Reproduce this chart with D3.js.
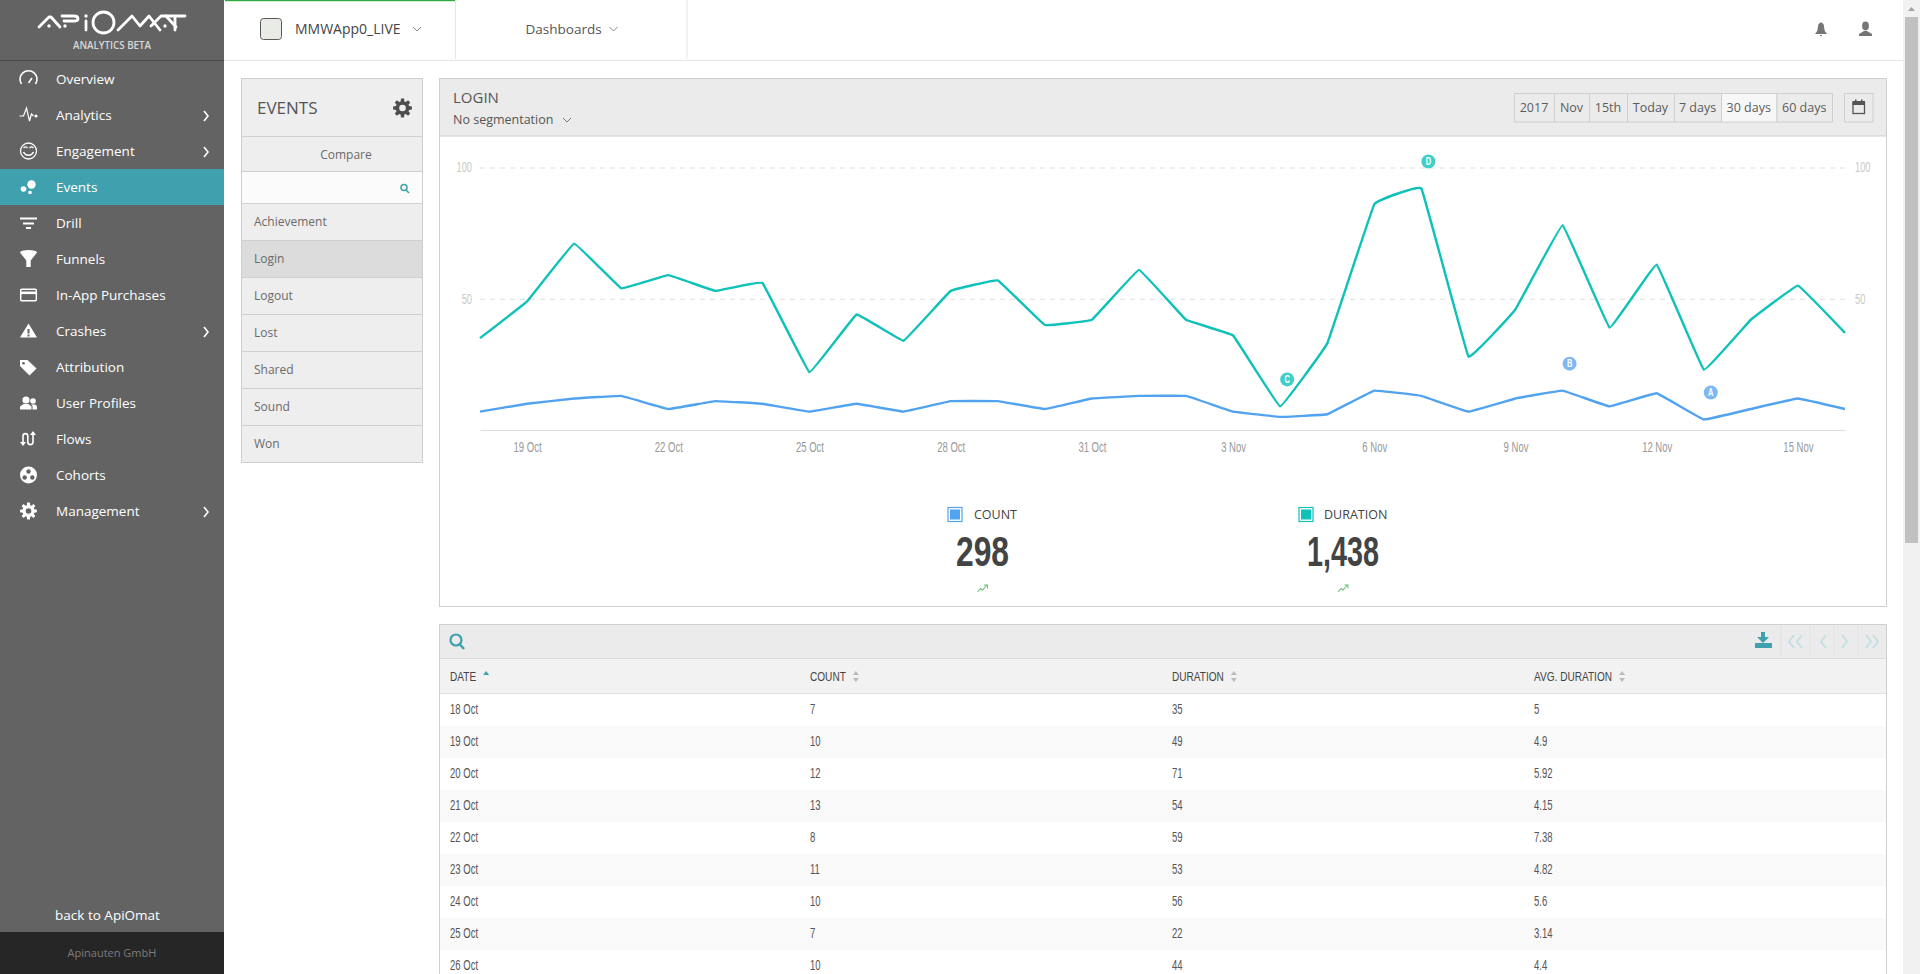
<!DOCTYPE html>
<html>
<head>
<meta charset="utf-8">
<title>Events - Login</title>
<script src="https://cdn.jsdelivr.net/npm/d3@7"></script>
<style>
  html, body { margin: 0; padding: 0; background: #fff; overflow: hidden; }
  text { font-family: "Open Sans", "Noto Sans", sans-serif; }
  text.narrow, .narrow text { font-family: "Liberation Sans", sans-serif; }
</style>
</head>
<body>
<svg id="page" width="1920" height="974"></svg>
<script>
// chart values
const days = ['18 Oct', '19 Oct', '20 Oct', '21 Oct', '22 Oct', '23 Oct', '24 Oct', '25 Oct', '26 Oct', '27 Oct',
  '28 Oct', '29 Oct', '30 Oct', '31 Oct', '1 Nov', '2 Nov', '3 Nov', '4 Nov', '5 Nov', '6 Nov',
  '7 Nov', '8 Nov', '9 Nov', '10 Nov', '11 Nov', '12 Nov', '13 Nov', '14 Nov', '15 Nov', '16 Nov'];
const countValues = [7, 10, 12, 13, 8, 11, 10, 7, 10, 7, 11, 11, 8, 12, 13, 13, 7, 5, 6, 15, 13, 7, 12, 15, 9, 14, 4, 8, 12, 8];
const durationValues = [35, 49, 71, 54, 59, 53, 56, 22, 44, 34, 53, 57, 40, 42, 61, 42, 36, 9, 33, 86, 92, 28, 46, 78, 39, 63, 23, 42, 55, 37];
const yTicks = [50, 100];
const xTicks = ['19 Oct', '22 Oct', '25 Oct', '28 Oct', '31 Oct', '3 Nov', '6 Nov', '9 Nov', '12 Nov', '15 Nov'];
const totals = ['298', '1,438'];

// letters over the highest and lowest day of each series
const noteLetters = ['A', 'B', 'C', 'D'];
const noteDays = ['13 Nov', '10 Nov', '4 Nov', '7 Nov'];
const noteValues = [4, 15, 9, 92];

// table, only the rows that fit the window
const tableDays = days.slice(0, 9);
const tableCounts = countValues.slice(0, 9);
const tableDurations = durationValues.slice(0, 9);
const tableAverages = ['5', '4.9', '5.92', '4.15', '7.38', '4.82', '5.6', '3.14', '4.4'];
const tableColumns = ['DATE', 'COUNT', 'DURATION', 'AVG. DURATION'];

const menuItems = ['Overview', 'Analytics', 'Engagement', 'Events', 'Drill', 'Funnels', 'In-App Purchases',
  'Crashes', 'Attribution', 'User Profiles', 'Flows', 'Cohorts', 'Management'];
const menuWithArrow = ['Analytics', 'Engagement', 'Crashes', 'Management'];
const eventNames = ['Achievement', 'Login', 'Logout', 'Lost', 'Shared', 'Sound', 'Won'];
const rangeButtons = ['2017', 'Nov', '15th', 'Today', '7 days', '30 days', '60 days'];
const rangeEdges = [1514, 1554, 1589, 1627, 1674, 1721, 1776.5, 1832];

const blue = '#52a3ef';
const teal = '#0ec1b9';
const accent = '#3fa1ae';

const svg = d3.select('#page');

function box(parent, x, y, w, h, fill, stroke) {
  return parent.append('rect')
    .attr('x', x).attr('y', y).attr('width', w).attr('height', h)
    .attr('fill', fill)
    .attr('stroke', stroke || 'none');
}

function label(parent, x, y, str, size, color, anchor) {
  return parent.append('text')
    .attr('x', x).attr('y', y)
    .attr('dy', '0.35em')
    .attr('font-size', size)
    .attr('fill', color)
    .attr('text-anchor', anchor || 'start')
    .text(str);
}

// no condensed font here, so narrow the glyphs by hand
function squeeze(sel, k) {
  sel.each(function () {
    let t = d3.select(this);
    let x = +t.attr('x') || 0;
    t.attr('x', 0).attr('transform', `translate(${x},0) scale(${k},1)`);
  });
  return sel;
}

function chevron(parent, x, y, color) {
  parent.append('path')
    .attr('d', `M${x - 4},${y - 2}L${x},${y + 2}L${x + 4},${y - 2}`)
    .attr('fill', 'none').attr('stroke', color).attr('stroke-width', 1);
}

function gearPath(cx, cy, outer, inner, hole) {
  let d = '';
  for (let i = 0; i < 8; i++) {
    let a = i * Math.PI / 4;
    [[-0.28, inner], [-0.16, outer], [0.16, outer], [0.28, inner], [0.42, inner]].forEach((p, j) => {
      let cmd = (i === 0 && j === 0) ? 'M' : 'L';
      d += `${cmd}${cx + p[1] * Math.cos(a + p[0])},${cy + p[1] * Math.sin(a + p[0])}`;
    });
  }
  d += `ZM${cx + hole},${cy}A${hole},${hole} 0 1 0 ${cx - hole},${cy}A${hole},${hole} 0 1 0 ${cx + hole},${cy}Z`;
  return d;
}

// sidebar icons, each drawn around 0,0
const icons = {
  Overview: g => {
    g.append('path').attr('d', 'M-7,5A8.5,8.5 0 1 1 7,5').attr('fill', 'none').attr('stroke', '#fff').attr('stroke-width', 1.6);
    g.append('path').attr('d', 'M0,4L3.5,-1').attr('stroke', '#fff').attr('stroke-width', 1.6);
  },
  Analytics: g => {
    g.append('path').attr('d', 'M-9,1H-5L-2,-7L1,6L3,-1L5,1').attr('fill', 'none').attr('stroke', '#fff').attr('stroke-width', 1.2);
    g.append('circle').attr('cx', 7.5).attr('cy', 1).attr('r', 1.6).attr('fill', '#fff');
  },
  Engagement: g => {
    g.append('circle').attr('r', 8).attr('fill', 'none').attr('stroke', '#fff').attr('stroke-width', 1.3);
    g.append('path').attr('d', 'M-5,1A5.5,5.5 0 0 0 5,1').attr('fill', 'none').attr('stroke', '#fff').attr('stroke-width', 1.5);
    g.append('path').attr('d', 'M-5,-3Q-3,-5 -1,-3M1,-3Q3,-5 5,-3').attr('fill', 'none').attr('stroke', '#fff').attr('stroke-width', 1.2);
  },
  Events: g => {
    g.append('circle').attr('cx', 3).attr('cy', -2.5).attr('r', 4.2).attr('fill', '#fff');
    g.append('circle').attr('cx', -5).attr('cy', 2).attr('r', 2.8).attr('fill', '#fff');
    g.append('circle').attr('cx', 1.5).attr('cy', 5.5).attr('r', 1.8).attr('fill', '#fff');
  },
  Drill: g => {
    box(g, -8.5, -5.5, 17, 2, '#fff');
    box(g, -5.5, -0.5, 11, 2, '#fff');
    box(g, -2.5, 4, 5, 2, '#fff');
  },
  Funnels: g => {
    g.append('path').attr('d', 'M-8.5,-6.5A8.5,2.5 0 0 1 8.5,-6.5L2.2,1.5V8H-2.2V1.5Z').attr('fill', '#fff');
  },
  'In-App Purchases': g => {
    box(g, -7.8, -5.8, 15.6, 11.6, 'none', '#fff').attr('stroke-width', 1.5).attr('rx', 1);
    box(g, -8, -3.5, 16, 2.6, '#fff');
  },
  Crashes: g => {
    g.append('path').attr('fill-rule', 'evenodd')
      .attr('d', 'M0,-7.5L8.5,6.5H-8.5ZM-1,-2V2.5H1V-2ZM-1,3.5V5.5H1V3.5Z').attr('fill', '#fff');
  },
  Attribution: g => {
    g.append('path').attr('d', 'M-8.5,-7H-1L8,1.5L1,8.5L-8.5,-1Z').attr('fill', '#fff');
    g.append('circle').attr('cx', -5).attr('cy', -3.8).attr('r', 1.3).attr('fill', '#636363');
  },
  'User Profiles': g => {
    g.append('circle').attr('cx', -2.5).attr('cy', -3).attr('r', 3.6).attr('fill', '#fff');
    g.append('path').attr('d', 'M-8.5,6.5V3.5L-5,1H0L3,3.5V6.5Z').attr('fill', '#fff');
    g.append('circle').attr('cx', 4.5).attr('cy', -2).attr('r', 2.8).attr('fill', '#fff');
    g.append('path').attr('d', 'M4,6.5V3L2.5,1.5H7L8.5,3.5V6.5Z').attr('fill', '#fff');
  },
  Flows: g => {
    g.append('path').attr('d', 'M-5.5,6V-3A2.4,2.4 0 0 1 -0.7,-3V3A2.4,2.4 0 0 0 4.5,3V-6')
      .attr('fill', 'none').attr('stroke', '#fff').attr('stroke-width', 1.6);
    g.append('path').attr('d', 'M-8.5,3L-5.5,7L-2.5,3ZM1.5,-4L4.5,-8L7.5,-4Z').attr('fill', '#fff');
  },
  Cohorts: g => {
    g.append('circle').attr('r', 8.5).attr('fill', '#fff');
    g.append('circle').attr('cx', 0).attr('cy', -3.5).attr('r', 2.2).attr('fill', '#636363');
    g.append('circle').attr('cx', -3.8).attr('cy', 2.5).attr('r', 2.2).attr('fill', '#636363');
    g.append('circle').attr('cx', 3.8).attr('cy', 2.5).attr('r', 2.2).attr('fill', '#636363');
  },
  Management: g => {
    g.append('path').attr('d', gearPath(0, 0, 8.5, 6, 2.8)).attr('fill', '#fff').attr('fill-rule', 'evenodd');
  }
};

function drawSidebar() {
  box(svg, 0, 0, 224, 974, '#636363');
  box(svg, 0, 60, 224, 1, '#484848');
  box(svg, 0, 932, 224, 42, '#262626');

  // logo strokes
  let logo = svg.append('g').attr('fill', 'none').attr('stroke', '#fff').attr('stroke-width', 2.8)
    .attr('stroke-linecap', 'round').attr('stroke-linejoin', 'round');
  ['M39,27L49,17H51L60,27', 'M62,16H74Q78,16 78,19Q78,21 74,21H64',
    'M86,21V30', 'M118,30L132,16L140,26L149,16L160,30', 'M151,26L161,16H166L176,27', 'M166,16H185M175,16V30']
    .forEach(d => logo.append('path').attr('d', d));
  logo.append('circle').attr('cx', 103.5).attr('cy', 22.5).attr('r', 10.5);
  [[49, 26], [65, 26], [86, 16], [165, 26]].forEach(p => {
    svg.append('circle').attr('cx', p[0]).attr('cy', p[1]).attr('r', 1.7).attr('fill', '#fff');
  });
  squeeze(label(svg, 112, 44.5, 'ANALYTICS BETA', 11.5, '#d8d8d8', 'middle').attr('font-weight', 600), 0.85);

  let rows = svg.selectAll('.menu-row')
    .data(menuItems)
    .enter()
    .append('g')
    .attr('class', 'menu-row')
    .attr('transform', (d, i) => `translate(0,${79 + i * 36})`);

  rows.filter(d => d === 'Events')
    .append('rect')
    .attr('y', -18).attr('width', 224).attr('height', 36)
    .attr('fill', accent);

  rows.append('g')
    .attr('transform', 'translate(28.5,0)')
    .each(function (d) { icons[d](d3.select(this)); });

  rows.append('text')
    .attr('x', 56).attr('dy', '0.35em')
    .attr('font-size', 13.5).attr('fill', '#fff')
    .text(d => d);

  rows.filter(d => menuWithArrow.includes(d))
    .append('path')
    .attr('d', 'M204,-4L208,1L204,6')
    .attr('fill', 'none').attr('stroke', '#fff').attr('stroke-width', 1.6);

  label(svg, 107.5, 915, 'back to ApiOmat', 13.5, '#fff', 'middle');
  label(svg, 112, 953, 'Apinauten GmbH', 11, '#7d7d7d', 'middle');
}

function drawTopBar() {
  box(svg, 224, 60, 1679, 1, '#e6e6e6');
  box(svg, 225, 0, 230, 1.2, '#2eab3e');
  box(svg, 455, 0, 1, 59, '#e6e6e6');
  box(svg, 686.5, 0, 1, 59, '#e6e6e6');

  box(svg, 260.5, 18.5, 21, 21, '#e9ebe6', '#5a5a5a').attr('rx', 3);
  label(svg, 295, 29, 'MMWApp0_LIVE', 14, '#444');
  chevron(svg, 417, 29, '#888');
  label(svg, 525.5, 29, 'Dashboards', 13.5, '#555');
  chevron(svg, 613.5, 29, '#888');

  // bell
  svg.append('path')
    .attr('d', 'M1815,34Q1818,31 1818,27Q1818,23 1820.5,23V22H1821.5V23Q1824,23 1824,27Q1824,31 1827,34Z')
    .attr('fill', '#757575');
  box(svg, 1820, 35, 2, 1, '#757575');
  // user
  svg.append('ellipse').attr('cx', 1865.5).attr('cy', 26).attr('rx', 3.4).attr('ry', 4.4).attr('fill', '#757575');
  svg.append('path').attr('d', 'M1859,36V34L1864,31H1867L1872,34V36Z').attr('fill', '#757575');
}

function drawEventsPanel() {
  box(svg, 241.5, 78.5, 181, 384, '#eeeeee', '#cfcfcf');
  label(svg, 257, 108, 'EVENTS', 17, '#555');
  svg.append('path').attr('d', gearPath(402.5, 108, 9.5, 6.8, 3.3)).attr('fill', '#4d4d4d').attr('fill-rule', 'evenodd');

  box(svg, 241.5, 136.5, 181, 35, '#eeeeee', '#cfcfcf');
  label(svg, 346, 154.5, 'Compare', 12, '#6a6a6a', 'middle');
  box(svg, 241.5, 171.5, 181, 32, '#fbfbfb', '#cfcfcf');
  svg.append('circle').attr('cx', 404).attr('cy', 187.5).attr('r', 3).attr('fill', 'none').attr('stroke', accent).attr('stroke-width', 1.5);
  svg.append('path').attr('d', 'M406,190L409,193').attr('stroke', accent).attr('stroke-width', 1.6);

  let rows = svg.selectAll('.event-row')
    .data(eventNames)
    .enter()
    .append('g')
    .attr('class', 'event-row')
    .attr('transform', (d, i) => `translate(241.5,${203.5 + i * 37})`);

  rows.append('rect')
    .attr('width', 181).attr('height', 37)
    .attr('fill', d => d === 'Login' ? '#dcdcdc' : '#eeeeee')
    .attr('stroke', '#cfcfcf');

  rows.append('text')
    .attr('x', 12.5).attr('y', 18.5).attr('dy', '0.35em')
    .attr('font-size', 12).attr('fill', '#6a6a6a')
    .text(d => d);
}

function drawChartPanel() {
  box(svg, 439.5, 78.5, 1447, 528, '#fff', '#cfcfcf');
  box(svg, 439.5, 78.5, 1447, 57.5, '#ebebeb', '#cfcfcf');
  label(svg, 453, 97.5, 'LOGIN', 15, '#555');
  label(svg, 453, 120, 'No segmentation', 12.5, '#555');
  chevron(svg, 567, 120, '#777');

  // range buttons
  rangeButtons.forEach((name, i) => {
    let x0 = rangeEdges[i];
    let x1 = rangeEdges[i + 1];
    box(svg, x0 + 0.5, 93.5, x1 - x0, 28.5, name === '30 days' ? '#f7f7f7' : '#ebebeb', '#cfcfcf');
    label(svg, (x0 + x1) / 2, 108, name, 12.5, '#5c5c5c', 'middle');
  });
  box(svg, 1844.5, 93.5, 28.5, 28.5, '#ebebeb', '#cfcfcf');
  box(svg, 1853, 103, 11.5, 10.5, 'none', '#555').attr('stroke-width', 1.3);
  box(svg, 1852.5, 101, 12.5, 4, '#555');
  box(svg, 1855, 99.5, 1.5, 2, '#555');
  box(svg, 1861, 99.5, 1.5, 2, '#555');

  // plot
  let xScale = d3.scalePoint().domain(days).range([480, 1845]);
  let yScale = d3.scaleLinear().domain([0, 100]).range([430, 167.5]);

  let grid = svg.append('g')
    .attr('transform', 'translate(480,0)')
    .call(d3.axisLeft(yScale).tickValues(yTicks).tickSize(-1365).tickFormat(''));
  grid.select('.domain').remove();
  grid.selectAll('line').attr('stroke', '#dddddd').attr('stroke-dasharray', '5,5');

  let yLeft = svg.append('g')
    .attr('class', 'narrow')
    .attr('transform', 'translate(472,0)')
    .call(d3.axisLeft(yScale).tickValues(yTicks).tickSize(0).tickPadding(0));
  let yRight = svg.append('g')
    .attr('class', 'narrow')
    .attr('transform', 'translate(1855,0)')
    .call(d3.axisRight(yScale).tickValues(yTicks).tickSize(0).tickPadding(0));
  [yLeft, yRight].forEach(a => {
    a.select('.domain').remove();
    squeeze(a.selectAll('text').attr('font-size', 14).attr('fill', '#c9c9c9'), 0.66);
  });

  let xAxis = svg.append('g')
    .attr('class', 'narrow')
    .attr('transform', 'translate(0,430)')
    .call(d3.axisBottom(xScale).tickValues(xTicks).tickSize(0).tickPadding(12));
  xAxis.select('.domain').attr('stroke', '#dddddd');
  squeeze(xAxis.selectAll('text').attr('font-size', 14).attr('fill', '#999'), 0.68);

  let line = d3.line()
    .x((d, i) => xScale(days[i]))
    .y(d => yScale(d))
    .curve(d3.curveCardinal.tension(0.85));

  svg.append('path').attr('d', line(durationValues))
    .attr('fill', 'none').attr('stroke', teal).attr('stroke-width', 2.4);
  svg.append('path').attr('d', line(countValues))
    .attr('fill', 'none').attr('stroke', blue).attr('stroke-width', 2.4);

  let notes = svg.selectAll('.note')
    .data(noteLetters)
    .enter()
    .append('g')
    .attr('class', 'note narrow')
    .attr('transform', (d, i) => `translate(${xScale(noteDays[i]) + 7},${yScale(noteValues[i]) - 27})`);
  notes.append('circle')
    .attr('r', 7)
    .attr('fill', (d, i) => i < 2 ? '#7cb9f3' : '#40cfc8');
  notes.append('text')
    .attr('text-anchor', 'middle').attr('dy', '0.35em')
    .attr('font-size', 10).attr('font-weight', 'bold').attr('fill', '#fff')
    .attr('transform', 'scale(0.75,1)')
    .text(d => d);

  // big numbers under the plot
  drawSummary(947.5, 974, 982.5, 'COUNT', totals[0], blue, 0.74);
  drawSummary(1298.5, 1324, 1343, 'DURATION', totals[1], teal, 0.67);
}

function drawSummary(swatchX, nameX, numberX, name, total, color, k) {
  box(svg, swatchX + 0.5, 507.5, 14, 14, '#fff', color).attr('stroke-width', 1.2);
  box(svg, swatchX + 2.5, 509.5, 10, 10, color);
  label(svg, nameX, 514.5, name, 12.5, '#444');
  let num = label(svg, numberX, 551, total, 43, '#434343', 'middle')
    .attr('class', 'narrow')
    .attr('font-weight', 'bold');
  squeeze(num, k);
  svg.append('path')
    .attr('d', `M${numberX - 5},592L${numberX - 2},588.5L${numberX},590L${numberX + 4},585.5M${numberX + 1.5},585H${numberX + 5}V588.5`)
    .attr('fill', 'none').attr('stroke', '#6cbf76').attr('stroke-width', 1.1);
}

function drawTable() {
  box(svg, 439.5, 624.5, 1447, 360, '#fff', '#cfcfcf');
  box(svg, 439.5, 624.5, 1447, 34.5, '#ebebeb', '#cfcfcf');
  box(svg, 440, 659, 1446, 34, '#f2f2f2');
  box(svg, 440, 693, 1446, 1, '#e0e0e0');

  // search and paging buttons
  svg.append('circle').attr('cx', 456).attr('cy', 640).attr('r', 5.5).attr('fill', 'none').attr('stroke', accent).attr('stroke-width', 2.2);
  svg.append('path').attr('d', 'M460,644.5L464,649').attr('stroke', accent).attr('stroke-width', 2.4);
  box(svg, 1755, 643, 17, 5, accent);
  svg.append('path').attr('d', 'M1761,632H1765V637H1769L1763,643L1757,637H1761Z').attr('fill', accent);
  [1780.5, 1809.5, 1833.5, 1857.5].forEach(x => box(svg, x, 625, 0.7, 34, '#e0e0e0'));
  ['M1794,635L1789,641.5L1794,648M1802,635L1797,641.5L1802,648',
    'M1826,635L1821,641.5L1826,648',
    'M1842,635L1847,641.5L1842,648',
    'M1866,635L1871,641.5L1866,648M1873,635L1878,641.5L1873,648']
    .forEach(d => svg.append('path').attr('d', d).attr('fill', 'none').attr('stroke', '#c4e0e3').attr('stroke-width', 2));

  let colX = [450, 810, 1172, 1534];
  let head = svg.append('g').attr('class', 'narrow');
  tableColumns.forEach((name, i) => {
    let t = label(head, colX[i], 676.5, name, 12, '#444');
    let sx = colX[i] + t.node().getComputedTextLength() * 0.84 + 10;
    squeeze(t, 0.84);
    head.append('path').attr('d', `M${sx - 3},675L${sx},671L${sx + 3},675Z`).attr('fill', i === 0 ? accent : '#bbb');
    if (i > 0) head.append('path').attr('d', `M${sx - 3},678L${sx},682L${sx + 3},678Z`).attr('fill', '#bbb');
  });

  let rows = svg.selectAll('.table-row')
    .data(tableDays)
    .enter()
    .append('g')
    .attr('class', 'table-row narrow')
    .attr('transform', (d, i) => `translate(440,${694 + i * 32})`);
  rows.append('rect')
    .attr('width', 1446).attr('height', 32)
    .attr('fill', (d, i) => i % 2 ? '#f9f9f9' : '#fff');

  let cells = (i, fn) => squeeze(rows.append('text')
    .attr('x', colX[i] - 440).attr('y', 15.5).attr('dy', '0.35em')
    .attr('font-size', 14).attr('fill', '#555')
    .text(fn), 0.68);
  cells(0, d => d);
  cells(1, (d, i) => tableCounts[i]);
  cells(2, (d, i) => tableDurations[i]);
  cells(3, (d, i) => tableAverages[i]);
}

function drawScrollbar() {
  box(svg, 1903, 0, 17, 974, '#f1f1f1');
  box(svg, 1905, 17, 13, 526, '#c1c1c1');
  svg.append('path').attr('d', 'M1908,11L1911.5,7L1915,11Z').attr('fill', '#a3a3a3');
}

drawSidebar();
drawTopBar();
drawEventsPanel();
drawChartPanel();
drawTable();
drawScrollbar();
</script>
</body>
</html>
